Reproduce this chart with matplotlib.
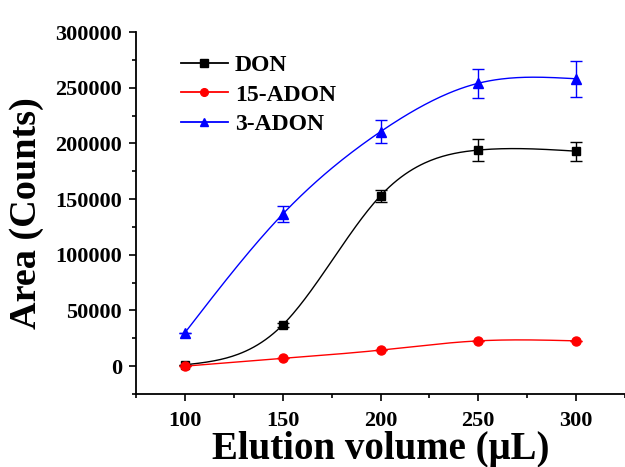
import numpy as np
import matplotlib
matplotlib.use("Agg")
import matplotlib.pyplot as plt
from matplotlib.ticker import MultipleLocator

volume = [100, 150, 200, 250, 300]
don = [1200, 37000, 153000, 194000, 193000]
don_err = [0, 1500, 5500, 10000, 8500]
adon15 = [0, 7000, 14400, 22700, 22700]
adon15_err = [0, 0, 0, 0, 0]
adon3 = [30000, 136500, 210500, 254000, 258000]
adon3_err = [0, 7500, 10500, 13000, 16000]


def natural_spline(x, y, n=200):
    x = np.asarray(x, float)
    y = np.asarray(y, float)
    k = len(x)
    h = np.diff(x)
    A = np.zeros((k, k))
    b = np.zeros(k)
    A[0, 0] = 1
    A[-1, -1] = 1
    for i in range(1, k - 1):
        A[i, i - 1] = h[i - 1]
        A[i, i] = 2 * (h[i - 1] + h[i])
        A[i, i + 1] = h[i]
        b[i] = 6 * ((y[i + 1] - y[i]) / h[i] - (y[i] - y[i - 1]) / h[i - 1])
    M = np.linalg.solve(A, b)
    xs = np.linspace(x[0], x[-1], n)
    ys = np.empty_like(xs)
    for j, xv in enumerate(xs):
        i = min(np.searchsorted(x, xv, side="right") - 1, k - 2)
        t1 = x[i + 1] - xv
        t0 = xv - x[i]
        ys[j] = (M[i] * t1 ** 3 + M[i + 1] * t0 ** 3) / (6 * h[i]) \
            + (y[i] / h[i] - M[i] * h[i] / 6) * t1 \
            + (y[i + 1] / h[i] - M[i + 1] * h[i] / 6) * t0
    return xs, ys


plt.rcParams['font.family'] = ['Liberation Serif', 'DejaVu Serif']
plt.rcParams['font.weight'] = 'bold'

fig = plt.figure(figsize=(6.25, 4.67), dpi=100)
ax = fig.add_axes([136 / 625, 1 - 394 / 467, 1 - 136 / 625, (394 - 32) / 467])

series = [
    ("DON", don, don_err, "black", "s", 6),
    ("15-ADON", adon15, adon15_err, "red", "o", 6.5),
    ("3-ADON", adon3, adon3_err, "blue", "^", 7),
]
for name, y, e, c, m, ms in series:
    xs, ys = natural_spline(volume, y)
    ax.plot(xs, ys, color=c, lw=1.0)
    ax.errorbar(volume, y, yerr=e, fmt=m, color=c, ms=ms, capsize=4,
                elinewidth=1.0, capthick=1.0, lw=0)
    ax.plot([], [], color=c, marker=m, ms=ms * 0.85, lw=1.3, label=name)

ax.set_xlim(75, 325)
ax.set_ylim(-25000, 300000)
ax.xaxis.set_major_locator(MultipleLocator(50))
ax.xaxis.set_minor_locator(MultipleLocator(25))
ax.yaxis.set_major_locator(MultipleLocator(50000))
ax.yaxis.set_minor_locator(MultipleLocator(25000))
ax.tick_params(which='major', direction='out', length=5, width=1.2, labelsize=16)
ax.tick_params(which='minor', direction='out', length=3, width=1.2)
ax.tick_params(axis='x', which='major', pad=7)
ax.tick_params(axis='y', which='major', pad=5)
ax.spines['top'].set_visible(False)
ax.spines['right'].set_visible(False)
ax.spines['left'].set_linewidth(1.3)
ax.spines['bottom'].set_linewidth(1.3)
for lab in ax.get_xticklabels() + ax.get_yticklabels():
    lab.set_fontweight('bold')

ax.set_xlabel("Elution volume (\u03bcL)", fontsize=28, fontweight='bold', labelpad=0)
ax.set_ylabel("Area (Counts)", fontsize=27.5, fontweight='bold', labelpad=8)

leg = ax.legend(loc='upper left', bbox_to_anchor=(0.048, 0.997), frameon=False,
                prop={'size': 17, 'weight': 'bold'}, handlelength=2.0,
                handletextpad=0.3, labelspacing=0.35)

fig.savefig("out.png", dpi=100)
